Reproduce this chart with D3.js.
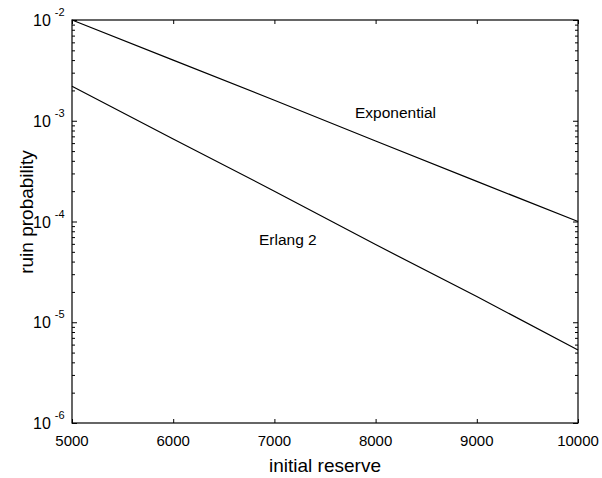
<!DOCTYPE html>
<html>
<head>
<meta charset="utf-8">
<script src="https://cdn.jsdelivr.net/npm/d3@7"></script>
<style>
  body { margin: 0; background: #fff; }
  text { font-family: "Liberation Sans", Arial, sans-serif; fill: #000; }
</style>
</head>
<body>
<svg class="ruin-svg" width="602" height="478"></svg>
<script>
// values
var reserves = [5000, 6000, 7000, 8000, 9000, 10000]
var exponential = [1.0e-2, 4.0e-3, 1.6e-3, 6.3e-4, 2.5e-4, 1.0e-4]
var erlang2 = [2.2e-3, 6.6e-4, 2.0e-4, 5.9e-5, 1.8e-5, 5.3e-6]
var xTicks = [5000, 6000, 7000, 8000, 9000, 10000]
var yDecades = [-2, -3, -4, -5, -6]

var margin = {left: 72, right: 24, top: 20, bottom: 55}
var width = 602, height = 478

var svg = d3.select(".ruin-svg")

var xScale = d3.scaleLinear()
  .domain([5000, 10000])
  .range([margin.left, width - margin.right])

var yScale = d3.scaleLog()
  .domain([1e-6, 1e-2])
  .range([height - margin.bottom, margin.top])

// minor ticks 2..9 in each decade
var minorTicks = yScale.ticks().filter(d => {
    var l = Math.log10(d)
    return Math.abs(l - Math.round(l)) > 1e-6
})
var majorTicks = yDecades.map(e => Math.pow(10, e))

function yAxis(side, size, vals) {
    var ax = side == "left" ? d3.axisLeft(yScale) : d3.axisRight(yScale)
    return ax.tickValues(vals).tickSize(-size).tickFormat("")
}

var x0 = xScale.range()[0], x1 = xScale.range()[1]
var y0 = yScale.range()[0], y1 = yScale.range()[1]

svg.append("g").attr("class", "axis")
  .attr("transform", "translate(" + x0 + ",0)").call(yAxis("left", 5, majorTicks))
svg.append("g").attr("class", "axis")
  .attr("transform", "translate(" + x0 + ",0)").call(yAxis("left", 3, minorTicks))
svg.append("g").attr("class", "axis")
  .attr("transform", "translate(" + x1 + ",0)").call(yAxis("right", 5, majorTicks))
svg.append("g").attr("class", "axis")
  .attr("transform", "translate(" + x1 + ",0)").call(yAxis("right", 3, minorTicks))

svg.append("g").attr("class", "axis")
  .attr("transform", "translate(0," + y0 + ")")
  .call(d3.axisBottom(xScale).tickValues(xTicks).tickSize(-4).tickFormat(""))
svg.append("g").attr("class", "axis")
  .attr("transform", "translate(0," + y1 + ")")
  .call(d3.axisTop(xScale).tickValues(xTicks).tickSize(-4).tickFormat(""))

svg.selectAll(".axis .domain").remove()
svg.selectAll(".axis line").attr("stroke", "#000").attr("stroke-width", 1)

// frame
svg.append("rect")
  .attr("x", x0).attr("y", y1)
  .attr("width", x1 - x0).attr("height", y0 - y1)
  .attr("fill", "none").attr("stroke", "#000").attr("stroke-width", 1.2)

// y tick labels 10^n
var ylab = svg.append("g").selectAll("text")
  .data(yDecades)
  .enter().append("text")
  .attr("x", 33)
  .attr("y", d => yScale(Math.pow(10, d)) + 6)
  .attr("font-size", "16px")
ylab.append("tspan").text("10")
ylab.append("tspan")
  .attr("dx", 4).attr("dy", -10)
  .attr("font-size", "11px")
  .text(d => "-" + (-d))

// x tick labels
svg.append("g").selectAll("text")
  .data(xTicks)
  .enter().append("text")
  .attr("x", d => xScale(d))
  .attr("y", 446)
  .attr("text-anchor", "middle")
  .attr("font-size", "15px")
  .text(d => d)

// curves
var line = d3.line()
  .x((d, i) => xScale(reserves[i]))
  .y(d => yScale(d))

svg.append("path").datum(exponential)
  .attr("d", line).attr("fill", "none")
  .attr("stroke", "#000").attr("stroke-width", 1.2)
svg.append("path").datum(erlang2)
  .attr("d", line).attr("fill", "none")
  .attr("stroke", "#000").attr("stroke-width", 1.2)

svg.append("text").attr("x", 355).attr("y", 118)
  .attr("font-size", "15.5px").text("Exponential")
svg.append("text").attr("x", 259).attr("y", 245)
  .attr("font-size", "15.5px").text("Erlang 2")

// axis titles
svg.append("text")
  .attr("x", (x0 + x1) / 2).attr("y", 472)
  .attr("text-anchor", "middle").attr("font-size", "19px")
  .text("initial reserve")
svg.append("text")
  .attr("transform", "translate(33," + 212 + ") rotate(-90)")
  .attr("text-anchor", "middle").attr("font-size", "19px")
  .text("ruin probability")
</script>
</body>
</html>
